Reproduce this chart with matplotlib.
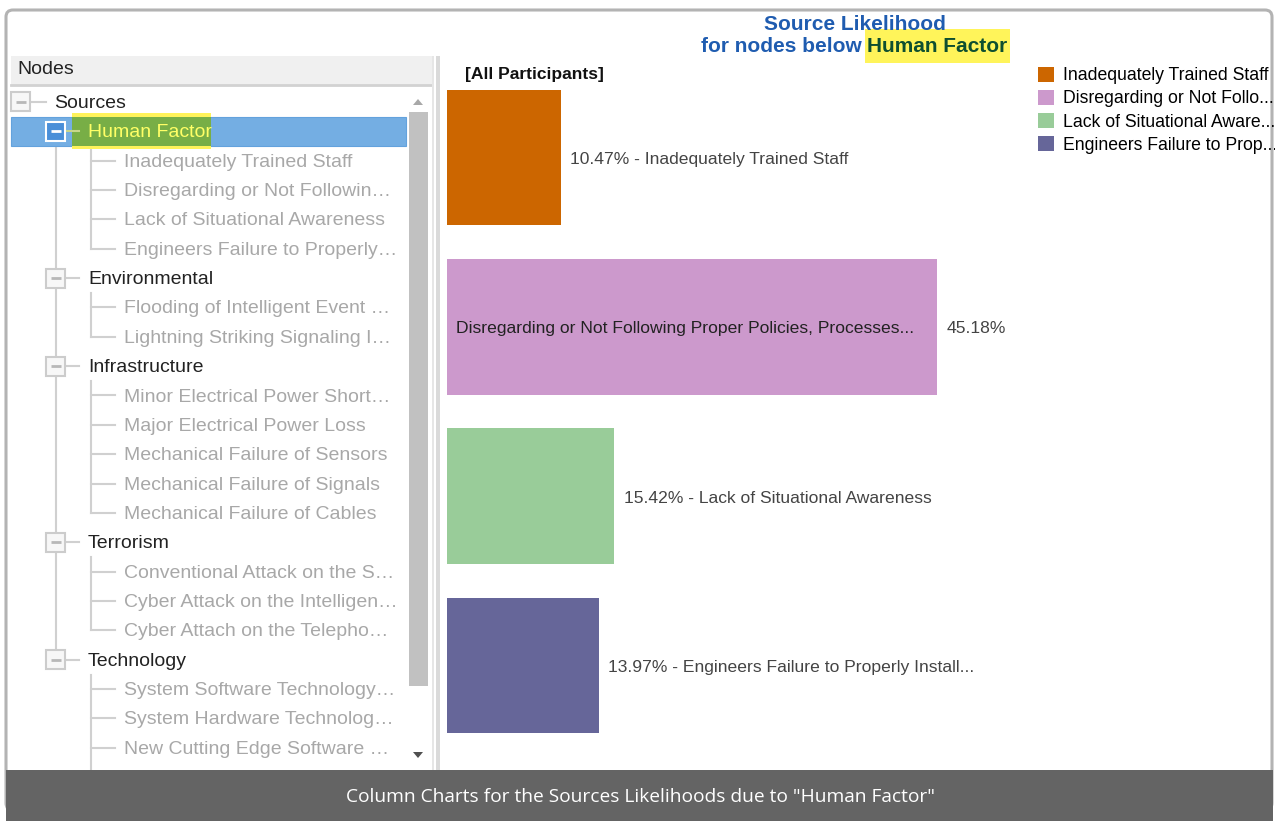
import matplotlib
matplotlib.use('Agg')
import matplotlib.pyplot as plt
from matplotlib.patches import Rectangle, FancyBboxPatch, Polygon

plt.rcParams['font.family'] = ['Liberation Sans', 'DejaVu Sans']

# chart data
sources = ['Inadequately Trained Staff',
           'Disregarding or Not Following Proper Policies, Processes...',
           'Lack of Situational Awareness',
           'Engineers Failure to Properly Install...']
likelihood = [10.47, 45.18, 15.42, 13.97]
legend_labels = ['Inadequately Trained Staff', 'Disregarding or Not Follo...',
                 'Lack of Situational Aware...', 'Engineers Failure to Prop...']
bar_colors = ['#cc6600', '#cc99cc', '#99cc99', '#666699']

# node tree on the left
tree_root = 'Sources'
tree_groups = ['Human Factor', 'Environmental', 'Infrastructure', 'Terrorism', 'Technology']
tree_leaves = [
    ['Inadequately Trained Staff', 'Disregarding or Not Followin\u2026',
     'Lack of Situational Awareness', 'Engineers Failure to Properly\u2026'],
    ['Flooding of Intelligent Event \u2026', 'Lightning Striking Signaling I\u2026'],
    ['Minor Electrical Power Short\u2026', 'Major Electrical Power Loss',
     'Mechanical Failure of Sensors', 'Mechanical Failure of Signals',
     'Mechanical Failure of Cables'],
    ['Conventional Attack on the S\u2026', 'Cyber Attack on the Intelligen\u2026',
     'Cyber Attach on the Telepho\u2026'],
    ['System Software Technology\u2026', 'System Hardware Technolog\u2026',
     'New Cutting Edge Software \u2026'],
]
selected = 'Human Factor'
caption = 'Column Charts for the Sources Likelihoods due to "Human Factor"'

W, H = 1275, 821
fig = plt.figure(figsize=(W / 100, H / 100), dpi=100)

# background axes in pixel units for the frame / tree panel
bg = fig.add_axes([0, 0, 1, 1])
bg.set_xlim(0, W)
bg.set_ylim(H, 0)
bg.axis('off')

bg.add_patch(FancyBboxPatch((6, 10), 1266, 800, boxstyle='round,pad=0,rounding_size=7',
                            fc='white', ec='#b3b3b3', lw=2.2, zorder=0))
bg.add_patch(Rectangle((6, 770), 1267, 55, fc='#646464', ec='none', zorder=5))

# tree header
bg.add_patch(Rectangle((11, 56), 421, 29, fc='#f0f0f0', ec='none', zorder=1))
bg.plot([11, 432], [85, 85], color='#d2d2d2', lw=2, zorder=1)
bg.text(17, 70, 'Nodes', fontsize=14, color='#222222', va='center', zorder=3)

# divider between panels
bg.add_patch(Rectangle((432, 56), 1.5, 714, fc='#e6e6e6', ec='none', zorder=1))
bg.add_patch(Rectangle((436, 56), 4, 714, fc='#dadada', ec='none', zorder=1))

line_c = '#d0d0d0'
tree_fs = 14


def row_y(i):
    return 102 + 29.35 * i


def minus_box(cx, cy, fc='#f7f7f7', ec='#cccccc', mc='#b8b8b8'):
    bg.add_patch(Rectangle((cx - 9.5, cy - 9.5), 19, 19, fc=fc, ec=ec, lw=1.5, zorder=3))
    bg.plot([cx - 5, cx + 5], [cy, cy], color=mc, lw=2, zorder=4, solid_capstyle='butt')


# root
minus_box(20.5, row_y(0))
bg.plot([30, 46], [row_y(0), row_y(0)], color=line_c, lw=1.5, zorder=1)
bg.text(54, row_y(0) + 1.5, tree_root, fontsize=tree_fs, color='#222222', va='center', zorder=3)

row = 1
group_rows = []
for g, leaves in zip(tree_groups, tree_leaves):
    gy = row_y(row)
    group_rows.append(gy)
    if g == selected:
        bg.add_patch(Rectangle((11, gy - 14.5), 395, 29, fc='#74aee3', ec='#63a2dd',
                               lw=0.8, zorder=2))
        bg.add_patch(Rectangle((72, gy - 18), 139, 36, fc='#fff35a', ec='none', zorder=2))
        bg.add_patch(Rectangle((72, gy - 14.5), 139, 29, fc='#78ae46', ec='none', zorder=2))
        minus_box(55.5, gy, fc='#4a8fd8', ec='white', mc='white')
        tcol = '#ffff66'
        lcol = '#c8d68a'
    else:
        minus_box(55.5, gy)
        tcol = '#222222'
        lcol = line_c
    bg.plot([65, 79], [gy, gy], color=lcol, lw=1.5, zorder=2.5)
    bg.text(88, gy + 1.5, g, fontsize=tree_fs, color=tcol, va='center', zorder=3)
    row += 1
    first = row
    for leaf in leaves:
        ly = row_y(row)
        bg.plot([90.5, 115], [ly, ly], color=line_c, lw=1.5, zorder=1)
        bg.text(124, ly + 1.5, leaf, fontsize=tree_fs, color='#a8a8a8', va='center', zorder=3)
        row += 1
    last_y = row_y(row - 1)
    if g == tree_groups[-1]:
        last_y = 770
    bg.plot([90.5, 90.5], [row_y(first - 1) + 15, last_y], color=line_c, lw=1.5, zorder=1)

bg.plot([55.5, 55.5], [group_rows[0], group_rows[-1]], color=line_c, lw=1.5, zorder=1)

# scrollbar
bg.add_patch(Rectangle((409, 112), 19, 574, fc='#c1c1c1', ec='none', zorder=3))
bg.add_patch(Polygon([(413, 105), (423, 105), (418, 99)], closed=True, fc='#a8a8a8',
                     ec='none', zorder=3))
bg.add_patch(Polygon([(413, 752), (423, 752), (418, 758)], closed=True, fc='#505050',
                     ec='none', zorder=3))

# title highlight
bg.add_patch(Rectangle((865, 29), 145, 34, fc='#fff45a', ec='none', zorder=1))

# bar chart
ax = fig.add_axes([447 / W, 1 - 750 / H, 583 / W, 677 / H])
ax.patch.set_alpha(0)
ypos = list(range(len(likelihood)))
bars = ax.barh(ypos, likelihood, height=0.8, color=bar_colors, lw=0)
ax.set_xlim(0, 583 / 10.85)
ax.set_ylim(3.5, -0.5)
ax.axis('off')

lab_fs = 12.6
for i, (v, name) in enumerate(zip(likelihood, sources)):
    if v > 30:
        ax.annotate(name, (0, i), xytext=(6.5, -1.5), textcoords='offset points',
                    va='center', fontsize=lab_fs, color='#222222')
        ax.annotate(f'{v:.2f}%', (v, i), xytext=(7, -1.5), textcoords='offset points',
                    va='center', fontsize=lab_fs, color='#444444')
    else:
        ax.annotate(f'{v:.2f}% - {name}', (v, i), xytext=(7, -1.5), textcoords='offset points',
                    va='center', fontsize=lab_fs, color='#444444')

ax.legend(bars, legend_labels, loc='upper left', bbox_to_anchor=(1038 / W, 1 - 67 / H),
          bbox_transform=fig.transFigure, frameon=False, fontsize=12.7,
          handlelength=0.9, handleheight=0.9, handletextpad=0.5, labelspacing=0.32,
          borderaxespad=0, borderpad=0)

title_fs = 15
fig.text(855 / W, 1 - 24 / H, 'Source Likelihood', ha='center', va='center',
         fontsize=title_fs, fontweight='bold', color='#1f5cb0')
fig.text(862 / W, 1 - 46 / H, 'for nodes below', ha='right', va='center',
         fontsize=title_fs, fontweight='bold', color='#1f5cb0')
fig.text(867 / W, 1 - 46 / H, 'Human Factor', ha='left', va='center',
         fontsize=title_fs, fontweight='bold', color='#0e4f30')
fig.text(465 / W, 1 - 75 / H, '[All Participants]', ha='left', va='center',
         fontsize=12.6, fontweight='bold', color='#111111')
fig.text(640 / W, 1 - 797 / H, caption, ha='center', va='center', fontsize=13.8,
         color='white', family=['Open Sans', 'DejaVu Sans'], zorder=10)

fig.savefig('out.png', dpi=100)
